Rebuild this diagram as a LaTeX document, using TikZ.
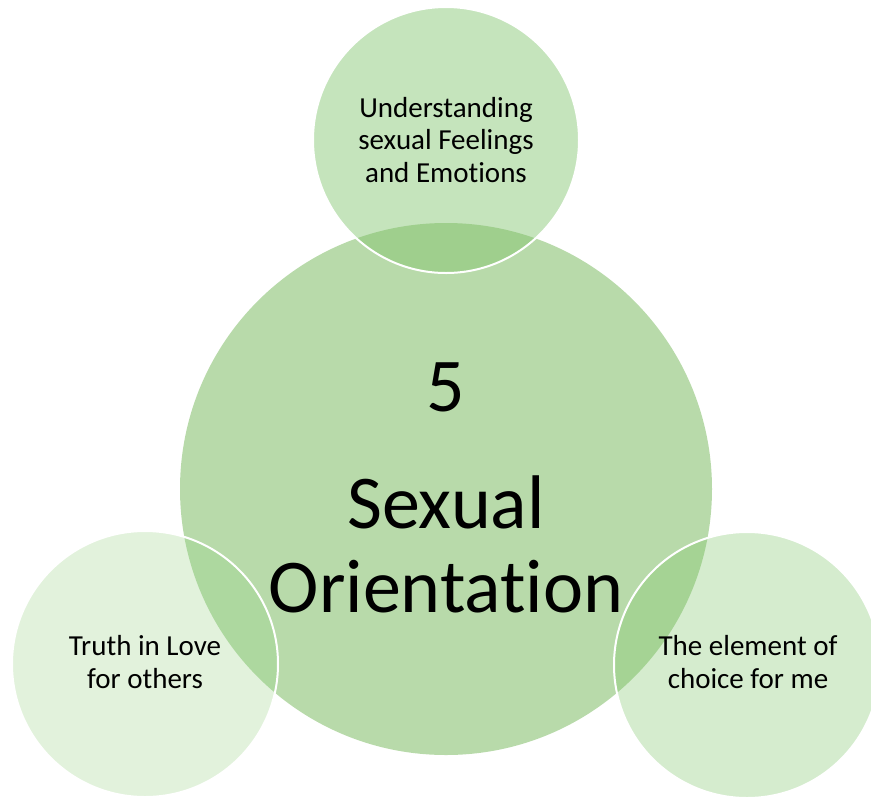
\documentclass[tikz,border=0pt]{standalone}
\usepackage{fontspec}
\setmainfont[Ligatures=NoCommon]{Carlito}
\definecolor{bigfill}{HTML}{B8DAAA}
\definecolor{topfill}{HTML}{C5E4BC}
\definecolor{topover}{HTML}{9FCF8D}
\definecolor{leftfill}{HTML}{E2F2DC}
\definecolor{leftover}{HTML}{ADD89F}
\definecolor{rightfill}{HTML}{D5ECCE}
\definecolor{rightover}{HTML}{A5D394}
\tikzset{
  bigcirc/.style={circle,fill=bigfill,draw=none,minimum size=532pt,inner sep=0pt},
  smallcirc/.style={circle,draw=none,minimum size=266pt,inner sep=0pt},
  bigtext/.style={font=\fontsize{76}{84}\selectfont,anchor=base,inner sep=0pt},
  smalltext/.style={font=\fontsize{29}{32.5}\selectfont,align=center,anchor=base,inner sep=0pt},
  rim/.style={draw=white,line width=2pt}
}
\begin{document}
\begin{tikzpicture}[x=1pt,y=-1pt]
\useasboundingbox (0,0) rectangle (871,796);
\node[bigcirc] (core) at (446,489) {};
% top
\node[smallcirc,fill=topfill] (top) at (446,140) {};
\begin{scope}
\clip (446,489) circle (266);
\fill[topover] (446,140) circle (133);
\end{scope}
\draw[rim] (446,140) circle (133);
% left
\node[smallcirc,fill=leftfill] (left) at (145,664) {};
\begin{scope}
\clip (446,489) circle (266);
\fill[leftover] (145,664) circle (133);
\end{scope}
\draw[rim] (145,664) circle (133);
% right
\node[smallcirc,fill=rightfill] (right) at (747,665) {};
\begin{scope}
\clip (446,489) circle (266);
\fill[rightover] (747,665) circle (133);
\end{scope}
\draw[rim] (747,665) circle (133);
% texts
\node[bigtext] (num) at (446,411) {5};
\node[bigtext] (t1) at (446,528) {Sexual};
\node[bigtext] (t2) at (446,612) {Orientation};
\node[smalltext] (toptext) at (446,182) {Understanding\\sexual Feelings\\and Emotions};
\node[smalltext] (lefttext) at (145,688) {Truth in Love\\for others};
\node[smalltext] (righttext) at (748,688) {The element of\\choice for me};
\end{tikzpicture}
\end{document}
